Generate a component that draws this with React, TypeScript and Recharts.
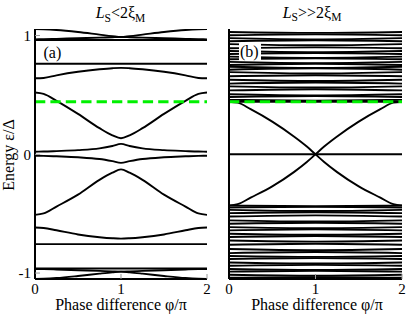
import { LineChart, Line, XAxis, YAxis } from "recharts"

// ─── Data ─────────────────────────────────────────────────────────────────────

const PHASE = [0, 0.1, 0.25, 0.5, 0.75, 0.9, 1, 1.1, 1.25, 1.5, 1.75, 1.9, 2]
const PHASE_ENDS = [0, 1, 2]
const X_TICKS = [0, 1, 2]
const Y_TICKS = [-1, 0, 1]
const Y_DOMAIN: [number, number] = [-1.05, 1.055]
const GAP_LEVEL = 0.443

// (a) L_S < 2ξ_M : discrete Andreev levels
const A_TOP_OUTER = [1.055, 1.053, 1.047, 1.03, 1.008, 0.995, 0.988, 0.995, 1.008, 1.03, 1.047, 1.053, 1.055]
const A_TOP_INNER = [0.968, 0.969, 0.972, 0.977, 0.982, 0.986, 0.988, 0.986, 0.982, 0.977, 0.972, 0.969, 0.968]
const A_UPPER_BAND = [0.64, 0.643, 0.665, 0.695, 0.716, 0.725, 0.728, 0.725, 0.716, 0.695, 0.665, 0.643, 0.64]
const A_UPPER_V = [0.52, 0.508, 0.45, 0.34, 0.22, 0.16, 0.135, 0.16, 0.22, 0.34, 0.45, 0.508, 0.52]
const A_NEAR_ZERO_UP = [0.022, 0.023, 0.027, 0.035, 0.05, 0.07, 0.088, 0.07, 0.05, 0.035, 0.027, 0.023, 0.022]
const A_NEAR_ZERO_DOWN = [-0.012, -0.013, -0.017, -0.025, -0.04, -0.058, -0.072, -0.058, -0.04, -0.025, -0.017, -0.013, -0.012]
const A_LOWER_V = [-0.51, -0.498, -0.44, -0.34, -0.215, -0.155, -0.127, -0.155, -0.215, -0.34, -0.44, -0.498, -0.51]
const A_LOWER_BAND = [-0.616, -0.62, -0.64, -0.675, -0.698, -0.707, -0.71, -0.707, -0.698, -0.675, -0.64, -0.62, -0.616]
const A_BOTTOM_INNER = [-0.966, -0.967, -0.97, -0.976, -0.982, -0.986, -0.988, -0.986, -0.982, -0.976, -0.97, -0.967, -0.966]
const A_BOTTOM_OUTER = [-1.05, -1.048, -1.042, -1.025, -1.005, -0.994, -0.988, -0.994, -1.005, -1.025, -1.042, -1.048, -1.05]
const A_FLAT_LEVELS = [0.962, 0.762, -0.756, -0.962]

// (b) L_S >> 2ξ_M : crossing levels plus quasi-continuum
const B_CROSS_DOWN = [0.443, 0.435, 0.38, 0.275, 0.15, 0.065, 0, -0.065, -0.15, -0.27, -0.365, -0.42, -0.43]
const B_CROSS_UP = [-0.43, -0.42, -0.365, -0.27, -0.15, -0.065, 0, 0.065, 0.15, 0.275, 0.38, 0.435, 0.443]
const B_FLAT_LEVELS = [0]
const B_CONT_EDGE = [
  1.03, 1.003, 0.978, 0.952, 0.928, 0.893, 0.87, 0.845, 0.822, 0.8, 0.778, 0.752,
  0.737, 0.712, 0.692, 0.657, 0.628, 0.595, 0.572, 0.538, 0.505, 0.482, 0.458, 0.443,
  -0.432, -0.448, -0.468, -0.495, -0.524, -0.556, -0.585, -0.613, -0.641, -0.669, -0.697, -0.726,
  -0.762, -0.798, -0.832, -0.856, -0.882, -0.911, -0.939, -0.966, -0.988, -1.014, -1.04,
]
const B_CONT_CENTER = [
  1.022, 1.01, 0.968, 0.96, 0.918, 0.9, 0.86, 0.852, 0.812, 0.808, 0.768, 0.762,
  0.726, 0.724, 0.68, 0.666, 0.617, 0.604, 0.562, 0.548, 0.495, 0.49, 0.452, 0.443,
  -0.437, -0.443, -0.478, -0.488, -0.514, -0.566, -0.577, -0.622, -0.632, -0.678, -0.688, -0.735,
  -0.753, -0.808, -0.823, -0.864, -0.874, -0.92, -0.931, -0.974, -0.982, -1.022, -1.034,
]

// ─── Helpers ──────────────────────────────────────────────────────────────────

type Pt = { phi: number; E: number }

const pts = (phases: number[], values: number[]): Pt[] =>
  phases.map((phi, i) => ({ phi, E: values[i] }))

const flat = (E: number) => pts(PHASE_ENDS, [E, E, E])

const CURVES_A: Pt[][] = [
  ...[A_TOP_OUTER, A_TOP_INNER, A_UPPER_BAND, A_UPPER_V, A_NEAR_ZERO_UP,
    A_NEAR_ZERO_DOWN, A_LOWER_V, A_LOWER_BAND, A_BOTTOM_INNER, A_BOTTOM_OUTER].map((v) => pts(PHASE, v)),
  ...A_FLAT_LEVELS.map(flat),
]

const CURVES_B: Pt[][] = [
  ...B_CONT_EDGE.map((e, i) => pts(PHASE_ENDS, [e, B_CONT_CENTER[i], e])),
  ...B_FLAT_LEVELS.map(flat),
  pts(PHASE, B_CROSS_DOWN),
  pts(PHASE, B_CROSS_UP),
]

const FONT = "Times New Roman, Liberation Serif, Nimbus Roman, DejaVu Serif, serif"
const AXIS_LINE = { stroke: "#000", strokeWidth: 2 }
const TICK_LINE = { stroke: "#999", strokeWidth: 1 }
const TICK_TEXT = { fontSize: 15, fill: "#000", style: { fontFamily: FONT } }

// ─── Panel ────────────────────────────────────────────────────────────────────

function Panel({ curves, left, width, marginRight, showYLabels }: {
  readonly curves: Pt[][]
  readonly left: number
  readonly width: number
  readonly marginRight: number
  readonly showYLabels: boolean
}) {
  return (
    <div style={{ position: "absolute", left, top: 0 }}>
      <LineChart width={width} height={315} margin={{ top: 29, right: marginRight, bottom: 0, left: 0 }}>
        <XAxis type="number" dataKey="phi" domain={[0, 2]} ticks={X_TICKS} allowDataOverflow
          height={36} tickSize={-5} tickMargin={9} axisLine={AXIS_LINE} tickLine={TICK_LINE} tick={TICK_TEXT} />
        <XAxis xAxisId="top" orientation="top" type="number" domain={[0, 2]} ticks={X_TICKS} allowDataOverflow
          height={0} tickSize={-5} axisLine={AXIS_LINE} tickLine={TICK_LINE} tick={false} />
        <YAxis type="number" domain={Y_DOMAIN} ticks={Y_TICKS} allowDataOverflow
          width={35} tickSize={-5} tickMargin={9} axisLine={AXIS_LINE} tickLine={TICK_LINE}
          tick={showYLabels ? TICK_TEXT : false} />
        <YAxis yAxisId="right" orientation="right" type="number" domain={Y_DOMAIN} ticks={Y_TICKS} allowDataOverflow
          width={0} tickSize={-5} axisLine={AXIS_LINE} tickLine={TICK_LINE} tick={false} />
        {curves.map((d, i) => (
          <Line key={i} data={d} dataKey="E" type="monotone" stroke="#000" strokeWidth={1.9}
            dot={false} activeDot={false} isAnimationActive={false} />
        ))}
        <Line data={flat(GAP_LEVEL)} dataKey="E" type="linear" stroke="#00f000" strokeWidth={3}
          strokeDasharray="10.3 5.1" dot={false} activeDot={false} isAnimationActive={false} />
      </LineChart>
    </div>
  )
}

export default function App() {
  return (
    <div style={{ position: "absolute", left: 0, top: 0, width: 407, height: 315, background: "#fff" }}>
      <Panel curves={CURVES_A} left={0} width={215} marginRight={8} showYLabels />
      <Panel curves={CURVES_B} left={194} width={213} marginRight={5} showYLabels={false} />
      <svg width={407} height={315} style={{ position: "absolute", left: 0, top: 0, pointerEvents: "none", fontFamily: FONT }}
        fill="#000">
        <text x={120.5} y={18} textAnchor="middle" fontSize={16}>
          <tspan fontStyle="italic">L</tspan>
          <tspan fontSize={11.5} dy={3.5}>S</tspan>
          <tspan dy={-3.5}>{"<2ξ"}</tspan>
          <tspan fontSize={11.5} dy={3.5}>M</tspan>
        </text>
        <text x={312} y={17.5} textAnchor="middle" fontSize={16}>
          <tspan fontStyle="italic">L</tspan>
          <tspan fontSize={11.5} dy={3.5}>S</tspan>
          <tspan dy={-3.5}>{">>2ξ"}</tspan>
          <tspan fontSize={11.5} dy={3.5}>M</tspan>
        </text>
        <text x={43.5} y={58} fontSize={16}>(a)</text>
        <rect x={239} y={43} width={22} height={18} fill="#fff" />
        <text x={240} y={57} fontSize={16}>(b)</text>
        <text x={121} y={310} textAnchor="middle" fontSize={16}>Phase difference φ/π</text>
        <text x={317} y={310} textAnchor="middle" fontSize={16}>Phase difference φ/π</text>
        <text x={14} y={155} textAnchor="middle" fontSize={16} transform="rotate(-90 14 155)">Energy ε/Δ</text>
      </svg>
    </div>
  )
}
